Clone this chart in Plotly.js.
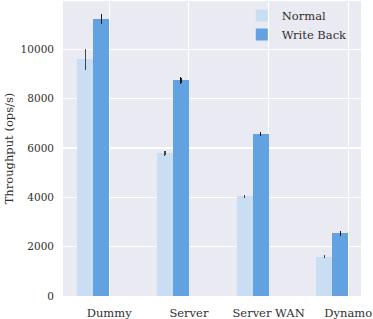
<!DOCTYPE html>
<html>
<head>
<meta charset="utf-8">
<script src="https://cdn.plot.ly/plotly-3.0.1.min.js"></script>
<style>html,body{margin:0;padding:0;background:#fff;}#chart{width:373px;height:319px;}</style>
</head>
<body>
<div id="chart"></div>
<script>
const categories = ["Dummy", "Server", "Server WAN", "Dynamo"];
const normalValues = [9600, 5790, 4050, 1600];
const normalErrors = [400, 80, 30, 40];
const writeBackValues = [11220, 8740, 6570, 2540];
const writeBackErrors = [180, 100, 60, 70];
const yTicks = [0, 2000, 4000, 6000, 8000, 10000];

const fam = 'DejaVu Serif';
const txt = '#303030';

const traces = [
  {type: 'bar', name: 'Normal', x: categories, y: normalValues,
   offset: -0.4, width: 0.2,
   marker: {color: '#c9ddf3', line: {width: 0}},
   error_y: {type: 'data', array: normalErrors, visible: true, color: '#444444', thickness: 1.4, width: 0.5}},
  {type: 'bar', name: 'Write Back', x: categories, y: writeBackValues,
   offset: -0.2, width: 0.2,
   marker: {color: '#63a2e1', line: {width: 0}},
   error_y: {type: 'data', array: writeBackErrors, visible: true, color: '#1a1a1a', thickness: 1.3, width: 0.5}}
];

const layout = {
  width: 373, height: 319,
  margin: {l: 63, r: 12, t: 1, b: 23},
  paper_bgcolor: '#ffffff', plot_bgcolor: '#eaeaf2',
  font: {family: fam, color: txt, size: 11.5},
  showlegend: true,
  legend: {x: 0.6, y: 1, xanchor: 'left', yanchor: 'top', bgcolor: 'rgba(0,0,0,0)',
           font: {family: fam, size: 11.5, color: txt}, traceorder: 'normal'},
  xaxis: {type: 'category', range: [-0.58, 3.16], showgrid: true, gridcolor: '#ffffff', gridwidth: 1.2,
          zeroline: false, showline: false, ticks: '', ticklabelstandoff: 8,
          tickfont: {family: fam, size: 11.5, color: txt}},
  yaxis: {range: [0, 11960], tickvals: yTicks, ticktext: yTicks.map(String), showgrid: true, gridcolor: '#ffffff', gridwidth: 1.2,
          zeroline: false, showline: false, ticks: '', ticklabelstandoff: 8,
          tickfont: {family: fam, size: 10.5, color: txt},
          title: {text: 'Throughput (ops/s)', font: {family: fam, size: 11.5, color: txt}, standoff: 4}},
  bargap: 0
};

Plotly.newPlot('chart', traces, layout, {displayModeBar: false, staticPlot: true});
</script>
</body>
</html>
